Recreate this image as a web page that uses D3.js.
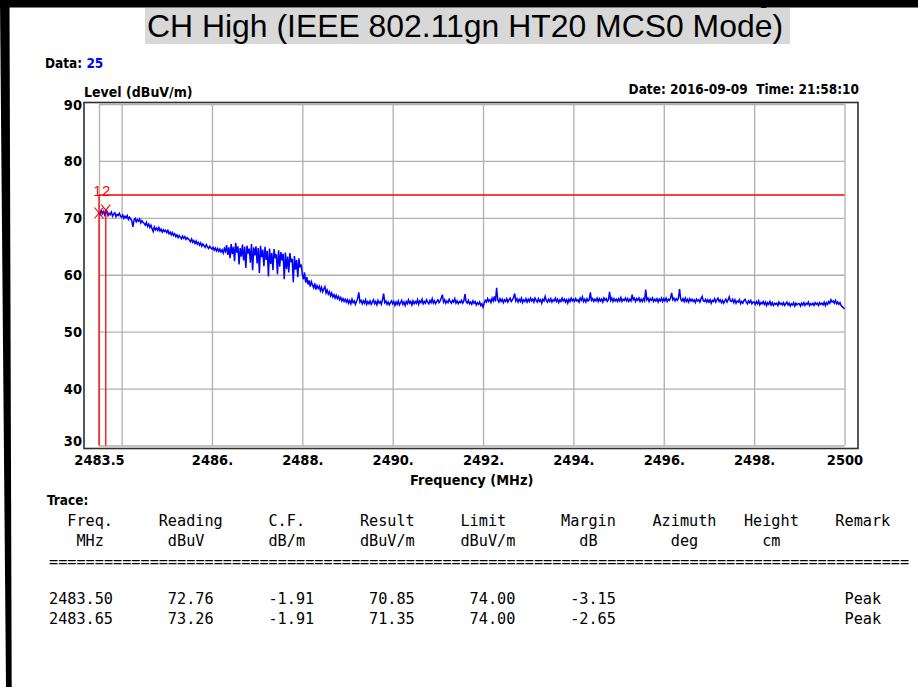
<!DOCTYPE html>
<html>
<head>
<meta charset="utf-8">
<script src="https://cdn.jsdelivr.net/npm/d3@7"></script>
<style>
  html, body { margin: 0; padding: 0; background: #fff; }
  svg { display: block; }
</style>
</head>
<body>
<svg id="chart" width="918" height="687"></svg>
<script>
// ---- text ----
const titleText = "CH High (IEEE 802.11gn HT20 MCS0 Mode)";
const dataLabel = "Data:";
const dataNumber = "25";
const dateText = "Date: 2016-09-09  Time: 21:58:10";
const yAxisTitle = "Level (dBuV/m)";
const xAxisTitle = "Frequency (MHz)";

// ---- sweep: start frequency and step (MHz) ----
const freqStart = 2483.5;
const freqStep = 0.025;

// ---- measured level (dBuV/m), one value per sweep step (20 per 0.5 MHz) ----
const levels = [
  71.0, 70.6, 71.3, 70.8, 71.1, 70.5, 70.9, 71.2, 70.4, 70.8, 70.6, 71.0, 70.3, 70.7, 70.9, 70.2, 70.6, 70.4, 70.8, 70.3,
  70.1, 70.5, 69.9, 70.3, 70.0, 70.4, 69.7, 70.1, 69.8, 69.5, 68.4, 69.6, 69.9, 69.3, 69.7, 69.4, 69.8, 69.1, 69.5, 69.2,
  69.0, 68.7, 69.2, 68.5, 68.9, 68.3, 68.7, 68.1, 67.6, 68.4, 67.9, 68.2, 67.8, 68.3, 67.7, 68.0, 67.5, 67.9, 67.6, 67.8,
  67.4, 67.8, 67.2, 67.5, 67.0, 67.4, 66.9, 67.2, 66.7, 67.0, 66.5, 66.9, 66.6, 66.3, 66.8, 66.4, 66.7, 66.2, 66.5, 66.3,
  66.1, 65.8, 66.3, 65.7, 66.0, 65.5, 65.9, 65.4, 65.7, 65.2, 65.6, 65.0, 65.4, 65.1, 64.8, 65.3, 64.9, 64.6, 65.0, 64.7,
  64.5, 64.8, 64.3, 64.7, 64.2, 64.6, 64.1, 64.5, 64.0, 64.4, 63.8, 64.6, 64.1, 65.2, 63.5, 64.8, 62.9, 65.4, 63.6, 64.9,
  62.4, 65.6, 63.9, 65.0, 61.8, 64.7, 63.2, 65.3, 62.5, 64.9, 61.2, 65.1, 63.7, 64.6, 62.1, 65.4, 60.8, 64.8, 63.4, 65.0,
  62.0, 64.7, 60.3, 65.1, 63.1, 64.4, 61.5, 64.9, 62.6, 64.2, 59.7, 64.6, 61.9, 63.8, 60.8, 64.5, 62.9, 63.6, 60.1, 64.3,
  61.4, 64.0, 62.5, 63.7, 59.2, 63.9, 61.0, 63.2, 60.4, 63.8, 62.2, 62.8, 58.7, 63.3, 60.9, 62.6, 59.6, 62.9, 61.3, 61.8,
  60.1, 59.2, 60.4, 58.6, 59.6, 58.3, 59.0, 57.9, 58.8, 58.2, 57.7, 58.5, 57.4, 58.1, 57.6, 58.0, 57.2, 57.8, 57.0, 57.5,
  57.9, 56.8, 57.3, 56.6, 57.0, 56.3, 56.8, 56.1, 56.5, 55.9, 56.4, 55.8, 56.2, 55.6, 56.0, 55.4, 55.8, 55.3, 55.7, 55.2,
  55.6, 55.0, 55.5, 54.9, 55.7, 55.1, 55.4, 54.8, 55.3, 55.8, 56.9, 55.2, 55.5, 54.9, 55.4, 55.0, 55.6, 54.8, 55.3, 54.9,
  55.4, 54.8, 55.2, 55.6, 54.9, 55.3, 54.7, 55.5, 55.0, 55.3, 54.8, 55.6, 56.7, 55.1, 55.4, 54.8, 55.2, 54.7, 55.1, 55.4,
  54.9, 55.3, 54.6, 55.2, 54.8, 55.4, 54.7, 55.1, 55.5, 54.8, 55.2, 54.6, 55.3, 54.9, 55.6, 55.0, 55.3, 54.7, 55.4, 54.9,
  55.3, 55.0, 55.6, 54.8, 55.4, 55.1, 55.7, 54.9, 55.3, 55.0, 55.6, 55.2, 54.9, 55.5, 55.1, 55.8, 55.0, 55.4, 54.9, 55.3,
  55.6, 55.1, 55.4, 55.9, 56.5, 55.2, 55.6, 55.0, 55.4, 55.1, 55.7, 55.3, 55.0, 55.5, 55.2, 55.8, 55.0, 55.4, 54.9, 55.3,
  55.1, 55.5, 55.0, 55.4, 56.6, 55.3, 55.0, 55.5, 54.9, 55.2, 54.8, 55.4, 55.0, 55.3, 54.7, 55.1, 54.8, 55.2, 54.6, 54.9,
  54.3, 55.0, 55.5, 55.2, 55.8, 55.3, 55.6, 55.1, 55.9, 55.4, 56.2, 55.3, 57.7, 55.6, 55.2, 55.8, 55.3, 55.7, 55.1, 55.6,
  55.3, 55.8, 55.2, 55.6, 55.9, 55.3, 55.6, 56.0, 56.7, 55.4, 55.8, 55.2, 55.7, 55.3, 55.9, 55.1, 55.6, 55.3, 55.8, 55.2,
  55.7, 55.3, 55.9, 55.4, 55.7, 55.2, 55.9, 55.5, 55.2, 55.8, 55.3, 55.6, 55.0, 55.7, 55.4, 56.2, 55.5, 55.2, 55.7, 55.3,
  55.8, 55.2, 55.6, 55.4, 55.9, 55.3, 55.7, 55.1, 55.6, 55.3, 55.9, 55.4, 55.7, 55.2, 55.6, 55.0, 55.7, 55.3, 55.9, 55.4,
  55.7, 55.3, 55.8, 55.4, 55.6, 55.2, 55.9, 55.5, 56.1, 55.3, 55.7, 55.2, 55.8, 55.4, 55.6, 56.9, 55.5, 55.8, 55.3, 55.7,
  55.4, 55.9, 55.3, 55.8, 55.4, 55.7, 55.2, 55.9, 55.5, 55.8, 55.3, 55.6, 57.0, 55.5, 55.9, 55.3, 55.8, 55.4, 55.7, 55.3,
  55.8, 55.4, 56.0, 55.3, 55.7, 55.5, 55.9, 55.4, 55.8, 55.3, 55.7, 55.4, 56.5, 55.6, 55.9, 55.3, 55.8, 55.5, 55.9, 55.3,
  55.7, 55.3, 55.8, 55.4, 57.4, 55.6, 55.9, 55.3, 55.8, 55.5, 55.9, 55.3, 55.7, 55.4, 55.8, 55.2, 55.7, 55.4, 55.9, 55.3,
  55.8, 55.4, 55.9, 55.3, 55.7, 55.5, 55.9, 56.8, 55.6, 55.9, 55.4, 55.8, 55.5, 55.9, 57.5, 55.7, 55.4, 55.8, 55.3, 55.9,
  55.3, 55.7, 55.2, 55.8, 55.4, 55.7, 55.3, 55.6, 55.1, 55.7, 55.4, 55.6, 55.2, 55.8, 56.2, 55.4, 55.3, 55.7, 55.2, 55.6,
  55.2, 55.6, 55.0, 55.5, 55.3, 55.8, 55.2, 55.6, 55.9, 55.3, 55.6, 55.1, 55.5, 55.0, 55.4, 55.7, 55.2, 55.6, 56.1, 55.4,
  55.3, 55.7, 55.1, 55.6, 55.0, 55.4, 55.2, 55.6, 54.9, 55.3, 55.0, 55.5, 55.7, 55.2, 54.9, 55.4, 55.1, 55.5, 54.9, 55.2,
  55.2, 54.8, 55.3, 54.9, 55.4, 54.7, 55.1, 54.9, 55.3, 54.8, 55.2, 54.6, 55.1, 54.8, 55.3, 54.7, 55.1, 54.6, 55.0, 54.8,
  55.0, 54.6, 55.2, 54.8, 55.0, 54.7, 55.1, 54.6, 54.9, 55.2, 54.7, 55.0, 54.5, 54.9, 54.7, 55.1, 54.5, 55.0, 54.7, 54.9,
  54.9, 54.5, 55.0, 54.7, 55.1, 54.6, 55.0, 54.8, 55.2, 54.6, 54.9, 54.7, 55.0, 54.6, 55.1, 54.8, 55.0, 54.6, 55.1, 54.8,
  55.0, 54.7, 55.2, 54.6, 55.1, 54.8, 55.3, 55.0, 55.6, 55.2, 55.4, 55.0, 55.5, 54.9, 55.2, 54.8, 55.1, 54.6, 54.4, 54.2,
  54.0
];

// ---- axes ----
const yTicks = [30, 40, 50, 60, 70, 80, 90];
const xGridValues = [2483.5, 2484, 2486, 2488, 2490, 2492, 2494, 2496, 2498, 2500];
const xTickValues = [2483.5, 2486, 2488, 2490, 2492, 2494, 2496, 2498, 2500];
const xTickLabels = ["2483.5", "2486.", "2488.", "2490.", "2492.", "2494.", "2496.", "2498.", "2500"];

// ---- limit line (dBuV/m) ----
const limitLevel = 74;

// ---- marker trace table ----
const traceIds = ["1", "2"];
const traceFreq = [2483.50, 2483.65];
const traceReading = [72.76, 73.26];
const traceCF = [-1.91, -1.91];
const traceResult = [70.85, 71.35];
const traceLimit = [74.00, 74.00];
const traceMargin = [-3.15, -2.65];
const traceRemark = ["Peak", "Peak"];
const headNames = ["Freq.", "Reading", "C.F.", "Result", "Limit", "Margin", "Azimuth", "Height", "Remark"];
const headUnits = ["MHz", "dBuV", "dB/m", "dBuV/m", "dBuV/m", "dB", "deg", "cm"];

// ---- drawing ----
const svg = d3.select("#chart");
const BOLD = "'DejaVu Sans Condensed', 'DejaVu Sans', Verdana, sans-serif";
const MONO = "'DejaVu Sans Mono', monospace";
const boldText = sel => sel
  .attr("font-family", BOLD).attr("font-weight", "bold")
  .style("font-stretch", "condensed").attr("fill", "#000");

// page frame
svg.append("polygon").attr("points", "0,0 918,0 918,7.5 0,7.5").attr("fill", "#000");
svg.append("polygon").attr("points", "0,0 9.5,0 11.7,687 6,687").attr("fill", "#000");
svg.append("text")
  .attr("x", 760).attr("y", 3)
  .attr("font-family", "'Liberation Sans', Arial, sans-serif")
  .attr("font-size", 30).attr("fill", "#000")
  .text("y");

// title band
svg.append("rect")
  .attr("x", 145).attr("y", 8).attr("width", 645).attr("height", 36)
  .attr("fill", "#d8d8d8");
svg.append("text")
  .attr("x", 147).attr("y", 37)
  .attr("font-family", "'Liberation Sans', Arial, sans-serif")
  .attr("font-size", 32)
  .attr("textLength", 636).attr("lengthAdjust", "spacingAndGlyphs")
  .attr("fill", "#000")
  .text(titleText);

// header labels
const dataT = svg.append("text")
  .attr("x", 45).attr("y", 68)
  .call(boldText).attr("font-size", 13.5);
dataT.append("tspan").text(dataLabel + " ");
dataT.append("tspan").attr("fill", "#0000ff").text(dataNumber);

svg.append("text")
  .attr("x", 859).attr("y", 94)
  .attr("text-anchor", "end")
  .call(boldText).attr("font-size", 13.5)
  .style("white-space", "pre")
  .text(dateText);

// scales
const x = d3.scaleLinear().domain([2483.5, 2500]).range([99, 844.5]);
const y = d3.scaleLinear().domain([30, 90]).range([445.5, 104]);

const gridTop = y(90), gridBottom = y(30);
const gridLeft = x(2483.5), gridRight = x(2500);

// grid
svg.append("g")
  .attr("transform", `translate(0,${gridBottom})`)
  .call(d3.axisBottom(x).tickValues(xGridValues).tickSize(-(gridBottom - gridTop)).tickFormat(""))
  .call(g => g.select(".domain").remove())
  .call(g => g.selectAll("line").attr("stroke", "#b0b0b0").attr("stroke-width", 1.3));
svg.append("g")
  .attr("transform", `translate(${gridLeft},0)`)
  .call(d3.axisLeft(y).tickValues(yTicks).tickSize(-(gridRight - gridLeft)).tickFormat(""))
  .call(g => g.select(".domain").remove())
  .call(g => g.selectAll("line").attr("stroke", "#b0b0b0").attr("stroke-width", 1.3));

// plot frame
const frameL = gridLeft - 15, frameR = gridRight + 13.5;
const frameT = gridTop - 1.5, frameB = gridBottom + 3;
svg.append("rect")
  .attr("x", frameL).attr("y", frameT)
  .attr("width", frameR - frameL).attr("height", frameB - frameT)
  .attr("fill", "none").attr("stroke", "#303030").attr("stroke-width", 1.6);

// y tick labels
svg.append("g")
  .attr("transform", `translate(${frameL},0)`)
  .call(d3.axisLeft(y).tickValues(yTicks).tickSize(0).tickPadding(2))
  .call(g => g.select(".domain").remove())
  .call(g => g.selectAll("text")
    .call(boldText).attr("font-size", 14.5)
    .attr("dy", null)
    .attr("y", d => Math.min(y(d) + 5, gridBottom) - y(d)));

// x tick labels
svg.append("g")
  .attr("transform", `translate(0,${frameB})`)
  .call(d3.axisBottom(x).tickValues(xTickValues).tickSize(0).tickPadding(6)
    .tickFormat((d, i) => xTickLabels[i]))
  .call(g => g.select(".domain").remove())
  .call(g => g.selectAll("text")
    .call(boldText).attr("font-size", 14.5));

// axis titles
svg.append("text")
  .attr("x", frameL).attr("y", 97)
  .call(boldText).attr("font-size", 14)
  .text(yAxisTitle);
svg.append("text")
  .attr("x", (gridLeft + gridRight) / 2).attr("y", 485)
  .attr("text-anchor", "middle")
  .call(boldText).attr("font-size", 14.4)
  .text(xAxisTitle);

// limit line
svg.append("line")
  .attr("x1", gridLeft).attr("x2", gridRight)
  .attr("y1", y(limitLevel)).attr("y2", y(limitLevel))
  .attr("stroke", "#ff0000").attr("stroke-width", 1.4);

// marker stems
svg.selectAll(".stem").data(traceFreq).join("line")
  .attr("class", "stem")
  .attr("x1", d => x(d)).attr("x2", d => x(d))
  .attr("y1", gridBottom)
  .attr("y2", (d, i) => i === 0 ? y(limitLevel) : y(traceResult[i]))
  .attr("stroke", "#ff0000").attr("stroke-width", 1.3);

// measured trace
const line = d3.line()
  .x((d, i) => x(freqStart + i * freqStep))
  .y(d => y(d));
svg.append("path")
  .datum(levels)
  .attr("d", line)
  .attr("fill", "none")
  .attr("stroke", "#0000ff")
  .attr("stroke-width", 1.5)
  .attr("stroke-linejoin", "miter");

// marker crosses and ids
traceFreq.forEach((f, i) => {
  const cx = x(f), cy = y(traceResult[i]);
  svg.append("path")
    .attr("d", `M${cx - 4.5},${cy - 5.5}L${cx + 4.5},${cy + 5.5}M${cx - 4.5},${cy + 5.5}L${cx + 4.5},${cy - 5.5}`)
    .attr("stroke", "#ff0000").attr("stroke-width", 1.1).attr("fill", "none");
  svg.append("text")
    .attr("x", cx + (i === 0 ? -1.5 : 0.5)).attr("y", y(limitLevel) + 1)
    .attr("text-anchor", "middle")
    .attr("font-family", "'Liberation Sans', Arial, sans-serif")
    .attr("font-size", 15).attr("fill", "#ff0000")
    .text(traceIds[i]);
});

// ---- trace table (fixed-width report layout) ----
function placeCols(items, cols) {
  let s = "";
  items.forEach((t, k) => {
    while (s.length < cols[k]) s += " ";
    s += t;
  });
  return s;
}
const headCols = [2, 12, 24, 34, 45, 56, 66, 76, 86];
const unitCols = [3, 13, 24, 34, 45, 58, 68, 78];
const rowCols = [0, 13, 24, 35, 46, 57, 87];
const tableLeft = 49;
const charW = 9.15;

svg.append("text")
  .attr("x", 47).attr("y", 505)
  .call(boldText).attr("font-size", 13.5)
  .text("Trace:");

const tableLines = [
  { t: placeCols(headNames, headCols), y: 526 },
  { t: placeCols(headUnits, unitCols), y: 546 },
  { t: "=".repeat(94), y: 567, fit: true },
  ...traceFreq.map((f, i) => ({
    t: placeCols([
      f.toFixed(2), traceReading[i].toFixed(2), traceCF[i].toFixed(2),
      traceResult[i].toFixed(2), traceLimit[i].toFixed(2), traceMargin[i].toFixed(2),
      traceRemark[i]
    ], rowCols),
    y: 604 + i * 20
  }))
];
tableLines.forEach(l => {
  const t = svg.append("text")
    .attr("x", tableLeft).attr("y", l.y)
    .attr("font-family", MONO).attr("font-size", 15.2)
    .attr("fill", "#000")
    .style("white-space", "pre")
    .text(l.t);
  if (l.fit) t.attr("textLength", l.t.length * charW).attr("lengthAdjust", "spacing");
});
</script>
</body>
</html>
